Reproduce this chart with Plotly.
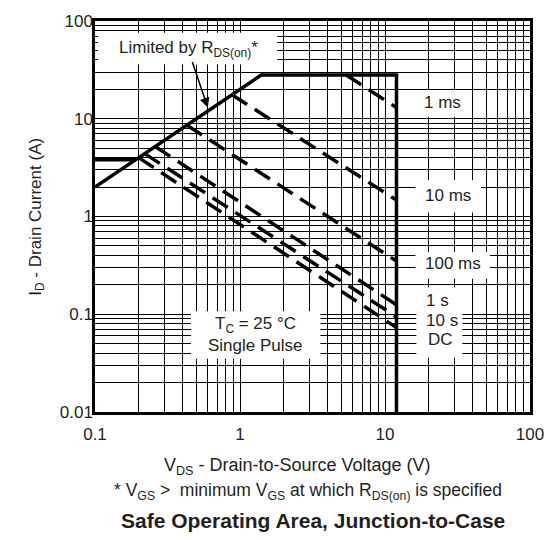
import math
import plotly.graph_objects as go

# ---- data -----------------------------------------------------------------
# Package / R_DS(on) limit boundary (solid)
limit_v = [0.1, 1.4, 12, 12]
limit_i = [2.0, 28, 28, 0.01]
# Continuous drain-current limit at low V_DS (solid)
id_limit_v = [0.1, 0.19]
id_limit_i = [3.8, 3.8]

# Pulse-width lines (start on the limit boundary, end at the V_DS limit)
pulse_names = ["1 ms", "10 ms", "100 ms", "1 s", "10 s", "DC"]
pulse_v = [[5.4, 12], [0.88, 12], [0.43, 12], [0.26, 12], [0.22, 12], [0.20, 12]]
pulse_i = [[28, 13], [17.6, 1.47], [8.6, 0.35], [5.2, 0.125], [4.4, 0.094], [4.0, 0.073]]

x_tickvals = [0.1, 1, 10, 100]
x_ticktext = ["0.1", "1", "10", "100"]
y_tickvals = [0.01, 0.1, 1, 10, 100]
y_ticktext = ["0.01", "0.1", "1", "10", "100"]

# ---- layout geometry ------------------------------------------------------
W_FIG, H_FIG = 556, 540
L, R, T, B = 95, 17, 16, 128
PW, PH = W_FIG - L - R, H_FIG - T - B

def px(x):
    return (x - L) / PW

def py(y):
    return 1 - (y - T) / PH

FONT = "Liberation Sans, Arial, Helvetica, sans-serif"
INK = "#231f20"

fig = go.Figure()

fig.add_trace(go.Scatter(x=limit_v, y=limit_i, mode="lines",
                         line=dict(color="black", width=3.5), showlegend=False,
                         hoverinfo="skip"))
fig.add_trace(go.Scatter(x=id_limit_v, y=id_limit_i, mode="lines",
                         line=dict(color="black", width=3.5), showlegend=False,
                         hoverinfo="skip"))
for name, v, i in zip(pulse_names, pulse_v, pulse_i):
    fig.add_trace(go.Scatter(x=v, y=i, mode="lines", name=name,
                             line=dict(color="black", width=3.5, dash="18px,9px"),
                             showlegend=False, hoverinfo="skip"))

grid = dict(gridcolor="black", gridwidth=1)

fig.update_xaxes(type="log", range=[-1, 2], tickmode="array",
                 tickvals=x_tickvals, ticktext=x_ticktext, showgrid=True, **grid,
                 minor=dict(dtick="D1", showgrid=True, ticks="", **grid),
                 showline=True, mirror=True, linewidth=2.5, linecolor="black",
                 ticks="", ticklabelstandoff=5,
                 tickfont=dict(family=FONT, size=17, color=INK), zeroline=False)
fig.update_yaxes(type="log", range=[-2, 2], tickmode="array",
                 tickvals=y_tickvals, ticktext=y_ticktext, showgrid=True, **grid,
                 minor=dict(dtick="D1", showgrid=True, ticks="", **grid),
                 showline=True, mirror=True, linewidth=2.5, linecolor="black",
                 ticks="", ticklabelstandoff=-4,
                 tickfont=dict(family=FONT, size=17, color=INK), zeroline=False)

ann = []
shapes = []

def box(x0, y0, x1, y1):
    shapes.append(dict(type="rect", xref="paper", yref="paper",
                       x0=px(x0), x1=px(x1), y0=py(y1), y1=py(y0),
                       fillcolor="white", line=dict(width=0), layer="above"))

def label(cx, cy, text, size=17, xanchor="center", bold=False):
    if bold:
        text = "<b>" + text + "</b>"
    ann.append(dict(xref="paper", yref="paper", x=px(cx), y=py(cy), text=text,
                    showarrow=False, xanchor=xanchor, yanchor="middle",
                    font=dict(family=FONT, size=size, color=INK)))

# boxed labels inside the plot
box(98, 28, 281, 60)
label(190, 44, "Limited by R<sub>DS(on)</sub>*")
box(423, 86, 478, 113)
label(450, 99, "1 ms")
box(422, 177, 489, 210)
label(455, 193, "10 ms")
box(422, 250, 498, 277)
label(460, 262, "100 ms")
box(423, 286, 470, 357)
label(431, 299, "1 s", xanchor="left")
label(431, 319, "10 s", xanchor="left")
label(433, 339, "DC", xanchor="left")
box(193, 310, 325, 358)
label(259, 324, "T<sub>C</sub> = 25 °C")
label(259, 345, "Single Pulse")

# arrow pointing at the R_DS(on) limit line
ann.append(dict(xref="x", yref="y", x=math.log10(0.6), y=math.log10(13), text="",
                showarrow=True, arrowhead=2, arrowsize=1.3, arrowwidth=1.5,
                arrowcolor="black", ax=-16, ay=-47))

# axis titles, footnote and caption
label(302, 467, "V<sub>DS</sub> - Drain-to-Source Voltage (V)", size=18)
label(312, 493, "* V<sub>GS</sub> >  minimum V<sub>GS</sub> at which R<sub>DS(on)</sub> is specified", size=17.5)
label(317, 522, "Safe Operating Area, Junction-to-Case", size=21, bold=True)
ann.append(dict(xref="paper", yref="paper", x=px(35), y=py(214),
                text="I<sub>D</sub> - Drain Current (A)", textangle=-90,
                showarrow=False, xanchor="center", yanchor="middle",
                font=dict(family=FONT, size=17, color=INK)))

fig.update_layout(width=W_FIG, height=H_FIG,
                  margin=dict(l=L, r=R, t=T, b=B),
                  paper_bgcolor="white", plot_bgcolor="white",
                  annotations=ann, shapes=shapes,
                  font=dict(family=FONT, color=INK))

fig.write_html("out.html")
